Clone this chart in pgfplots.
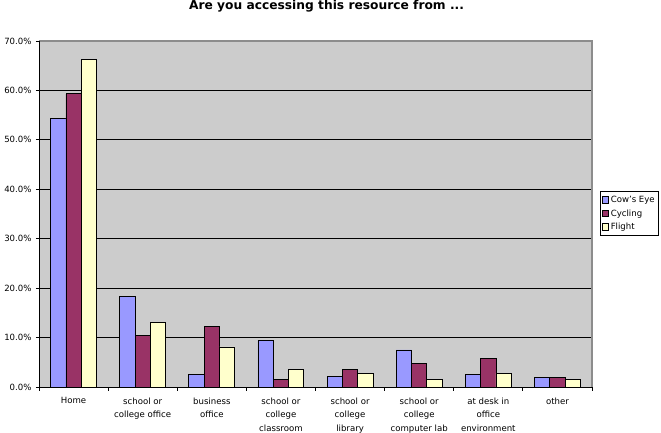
\documentclass[border=0pt]{standalone}
\usepackage{pgfplots}
\pgfplotsset{compat=1.18}
\usepackage{fontspec}
\setmainfont{DejaVu Sans}
\definecolor{cow}{HTML}{9999FF}
\definecolor{cyc}{HTML}{993366}
\definecolor{fli}{HTML}{FFFFCC}
\definecolor{bg}{HTML}{CCCCCC}
\definecolor{frame}{HTML}{8C8C8C}
\newcommand{\lab}{\fontsize{8.6}{13.7}\selectfont}
\begin{document}
\begin{tikzpicture}
\path[use as bounding box] (0bp,0bp) rectangle (661bp,433bp);
\node[font=\bfseries\fontsize{12.3}{14}\selectfont, anchor=center] at (326.5bp,427bp) {Are you accessing this resource from ...};
\begin{axis}[
  at={(39bp,46bp)}, anchor=south west,
  scale only axis, width=553bp, height=346bp,
  xmin=-0.5, xmax=7.5, ymin=0, ymax=70,
  ybar=0pt, bar width=15.3bp,
  axis background/.style={fill=bg},
  axis line style={draw=none},
  ytick={0,10,20,30,40,50,60,70},
  yticklabel={\pgfmathprintnumber[fixed,fixed zerofill,precision=1]{\tick}\%},
  /pgf/number format/assume math mode=true,
  yticklabel style={font=\lab, xshift=-1bp},
  ymajorgrids, major grid style={black, line width=0.8bp},
  xtick={0,1,2,3,4,5,6,7},
  xticklabels={Home, school or\\college office, business\\office, school or\\college\\classroom, school or\\college\\library, school or\\college\\computer lab, at desk in\\office\\environment, other},
  xticklabel style={align=center, font=\lab, yshift=-4bp},
  major x tick style={draw=none},
  minor xtick={-0.5,0.5,1.5,2.5,3.5,4.5,5.5,6.5,7.5},
  minor x tick style={black, line width=0.8bp},
  minor tick length=4bp,
  major tick length=3bp,
  major y tick style={black, line width=0.8bp},
  tick align=outside,
  xtick pos=left, ytick pos=left,
  legend style={at={(1.0145,0.501)}, anchor=west, draw=black, line width=0.6bp,
    font=\lab, inner xsep=1.5bp, inner ysep=2.5bp, row sep=1.5bp, legend cell align=left},
  legend image code/.code={\draw[#1,draw=black,line width=0.5bp] (0bp,-3bp) rectangle (6.5bp,3.5bp);},
  every axis plot/.append style={draw=black, line width=0.8bp},
  clip=false,
]
\addplot[fill=cow] coordinates {(0,54.4) (1,18.4) (2,2.6) (3,9.5) (4,2.2) (5,7.5) (6,2.6) (7,2.0)};
\addplot[fill=cyc] coordinates {(0,59.3) (1,10.5) (2,12.3) (3,1.5) (4,3.5) (5,4.7) (6,5.7) (7,2.0)};
\addplot[fill=fli] coordinates {(0,66.2) (1,13.0) (2,8.1) (3,3.5) (4,2.8) (5,1.6) (6,2.8) (7,1.6)};
\legend{Cow's Eye, Cycling, Flight}
\draw[frame, line width=1.2bp] (rel axis cs:0,1) -- (rel axis cs:1,1) -- (rel axis cs:1,0);
\draw[black, line width=0.8bp] (rel axis cs:0,1) -- (rel axis cs:0,0) -- (rel axis cs:1,0);
\end{axis}
\end{tikzpicture}
\end{document}
